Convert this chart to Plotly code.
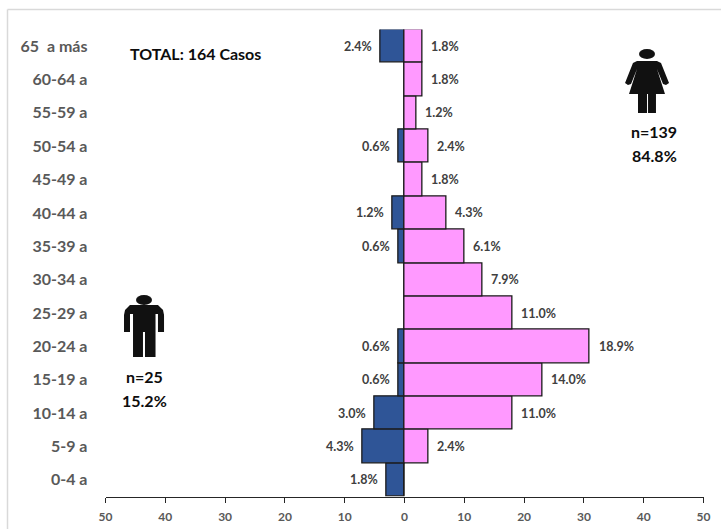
import plotly.graph_objects as go

categories = ["0-4 a","5-9 a","10-14 a","15-19 a","20-24 a","25-29 a","30-34 a","35-39 a",
              "40-44 a","45-49 a","50-54 a","55-59 a","60-64 a","65  a más"]
male = [3,7,5,1,1,0,0,1,2,0,1,0,0,4]
female = [0,4,18,23,31,18,13,10,7,3,4,2,3,3]
male_pct = ["1.8%","4.3%","3.0%","0.6%","0.6%","","","0.6%","1.2%","","0.6%","","","2.4%"]
female_pct = ["","2.4%","11.0%","14.0%","18.9%","11.0%","7.9%","6.1%","4.3%","1.8%","2.4%","1.2%","1.8%","1.8%"]
ticks = [-50,-40,-30,-20,-10,0,10,20,30,40,50]
tick_text = ["50","40","30","20","10","0","10","20","30","40","50"]

FONT = "Lato"
W, H = 721, 529
L, R, T, B = 105.5, 703.5, 29.5, 496.5

fig = go.Figure()
fig.add_bar(y=categories, x=[-v for v in male], orientation="h", name="Hombres",
            marker=dict(color="#2F5597", line=dict(color="#1a1a1a", width=1.3)), hoverinfo="skip")
fig.add_bar(y=categories, x=female, orientation="h", name="Mujeres",
            marker=dict(color="#FF99FF", line=dict(color="#1a1a1a", width=1.3)), hoverinfo="skip")

anns = []
for c, v, t in zip(categories, male, male_pct):
    if t:
        anns.append(dict(x=-v, y=c, xref="x", yref="y", text=f"<b>{t}</b>", showarrow=False,
                         xanchor="right", xshift=-7, font=dict(family=FONT, size=12.5, color="#404040")))
for c, v, t in zip(categories, female, female_pct):
    if t:
        anns.append(dict(x=v, y=c, xref="x", yref="y", text=f"<b>{t}</b>", showarrow=False,
                         xanchor="left", xshift=7, font=dict(family=FONT, size=12.5, color="#404040")))

def px(x, y, text, size=16):
    return dict(x=x/W, y=1-y/H, xref="paper", yref="paper", text=f"<b>{text}</b>", showarrow=False,
                xanchor="center", yanchor="middle", font=dict(family=FONT, size=size, color="#0d0d0d"))

anns += [px(195, 54, "TOTAL: 164 Casos"),
         px(654, 131, "n=139"), px(654, 155, "84.8%"),
         px(144, 376, "n=25"), px(144, 400, "15.2%")]

def p(points):
    return "M " + " L ".join(f"{x/W:.4f},{1-y/H:.4f}" for x, y in points) + " Z"

def ellipse(cx, cy, rx, ry):
    return dict(type="circle", xref="paper", yref="paper", x0=(cx-rx)/W, x1=(cx+rx)/W,
                y0=1-(cy+ry)/H, y1=1-(cy-ry)/H, fillcolor="#111", line=dict(width=0))

def poly(points):
    return dict(type="path", xref="paper", yref="paper", path=p(points), fillcolor="#111", line=dict(width=0))

frame = dict(color="#D9D9D9", width=1.5)
shapes = [
    dict(type="line", xref="paper", yref="paper", x0=7.5/W, x1=7.5/W, y0=0, y1=1-9.5/H, line=frame),
    dict(type="line", xref="paper", yref="paper", x0=7.5/W, x1=1, y0=1-9.5/H, y1=1-9.5/H, line=frame),
    # woman
    ellipse(647, 54, 8, 5),
    poly([(637,61),(657,61),(661,63),(669,83),(666,85),(663,84),(657,69),(665,94),(656,94),(656,113),
          (648,113),(648,94),(647,94),(647,113),(638,113),(638,94),(629,94),(637,69),(631,84),(628,85),
          (625,83),(633,63)]),
    # man
    ellipse(144, 300, 8, 5),
    poly([(130,305),(158,305),(163,310),(164,315),(164,332),(158,332),(158,314),(155.5,314),(155.5,357),
          (145,357),(145,332),(143,332),(143,357),(133,357),(133,314),(130,314),(130,332),(124,332),
          (124,315),(125,310)]),
]

fig.update_layout(
    width=W, height=H, barmode="overlay", bargap=0, showlegend=False,
    paper_bgcolor="white", plot_bgcolor="white",
    margin=dict(l=0, r=0, t=0, b=0, autoexpand=False),
    annotations=anns, shapes=shapes,
    xaxis=dict(domain=[L/W, R/W], range=[-50,50], tickvals=ticks, ticktext=tick_text, showgrid=False,
               zeroline=False, showline=True, linecolor="#262626", linewidth=1.3, ticks="outside",
               ticklen=5, tickcolor="#262626", tickwidth=1.3, ticklabelstandoff=4,
               tickfont=dict(family=FONT, size=12, color="#595959", weight="bold")),
    yaxis=dict(domain=[1-B/H, 1-T/H], categoryorder="array", categoryarray=categories, showgrid=False,
               zeroline=False, showline=False, ticks="", ticklabelstandoff=17,
               tickfont=dict(family=FONT, size=16, color="#595959", weight="bold")),
)
fig.write_html("out.html", config=dict(displayModeBar=False),
               post_script="document.body.style.margin='0';document.body.style.overflow='hidden';")
